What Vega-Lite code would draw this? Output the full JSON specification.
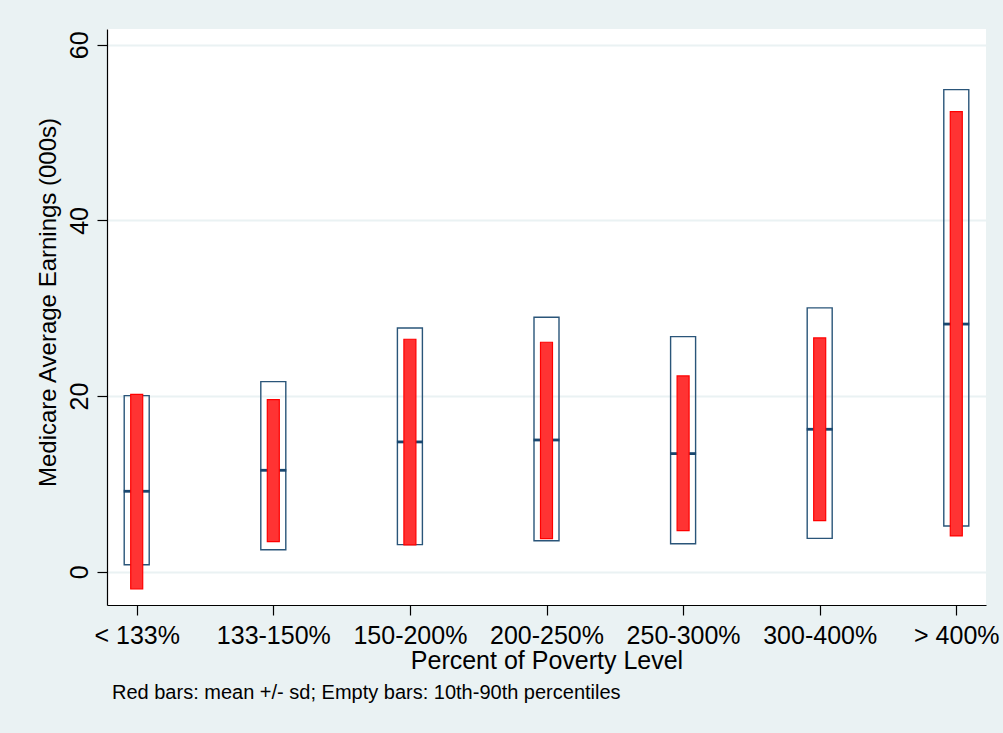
{
  "$schema": "https://vega.github.io/schema/vega-lite/v6.json",
  "width": 879,
  "height": 576,
  "autosize": {"type": "none"},
  "padding": {"left": 107, "top": 29, "right": 17, "bottom": 128},
  "background": "#EAF2F3",
  "config": {
    "view": {"fill": "white", "stroke": null},
    "font": "Liberation Sans"
  },
  "title": {
    "text": "Red bars: mean +/- sd; Empty bars: 10th-90th percentiles",
    "orient": "bottom",
    "anchor": "start",
    "frame": "group",
    "dx": 5,
    "offset": 26,
    "baseline": "alphabetic",
    "fontSize": 20,
    "fontWeight": "normal",
    "font": "Liberation Sans",
    "color": "black"
  },
  "data": {
    "values": [
      {"group": "< 133%", "p10": 0.8, "p90": 20.05, "median": 9.16, "lo": -1.97, "hi": 20.2},
      {"group": "133-150%", "p10": 2.5, "p90": 21.65, "median": 11.55, "lo": 3.42, "hi": 19.6},
      {"group": "150-200%", "p10": 3.08, "p90": 27.76, "median": 14.78, "lo": 3.05, "hi": 26.47},
      {"group": "200-250%", "p10": 3.53, "p90": 28.98, "median": 15.0, "lo": 3.76, "hi": 26.13},
      {"group": "250-300%", "p10": 3.19, "p90": 26.77, "median": 13.45, "lo": 4.67, "hi": 22.3},
      {"group": "300-400%", "p10": 3.8, "p90": 30.04, "median": 16.22, "lo": 5.81, "hi": 26.62},
      {"group": "> 400%", "p10": 5.2, "p90": 54.9, "median": 28.2, "lo": 4.07, "hi": 52.4}
    ]
  },
  "encoding": {
    "x": {
      "field": "group",
      "type": "nominal",
      "sort": null,
      "scale": {"type": "point", "padding": 0.2175, "domain": ["< 133%", "133-150%", "150-200%", "200-250%", "250-300%", "300-400%", "> 400%"]},
      "axis": {
        "title": "Percent of Poverty Level",
        "labelAngle": 0,
        "labelFontSize": 25,
        "labelColor": "black",
        "labelBaseline": "alphabetic",
        "labelPadding": 28,
        "tickSize": 10,
        "tickColor": "black",
        "tickWidth": 1.2,
        "domainColor": "black",
        "domainWidth": 1.2,
        "grid": false,
        "titleFontSize": 25,
        "titleFontWeight": "normal",
        "titleColor": "black",
        "titleBaseline": "alphabetic",
        "titleY": 63,
        "titleX": 439.5,
        "titleAnchor": "middle"
      }
    }
  },
  "layer": [
    {
      "mark": {"type": "bar", "width": 25, "fill": null, "fillOpacity": 0, "stroke": "#2A5579", "strokeWidth": 1.4},
      "encoding": {
        "y": {
          "field": "p10",
          "type": "quantitative",
          "scale": {"domain": [-3.79, 61.8], "nice": false, "zero": false},
          "axis": {
            "title": "Medicare Average Earnings (000s)",
            "values": [0, 20, 40, 60],
            "labelAngle": -90,
            "labelAlign": "center",
            "labelBaseline": "alphabetic",
            "labelPadding": 10,
            "labelFontSize": 25,
            "labelColor": "black",
            "tickSize": 10,
            "tickColor": "black",
            "tickWidth": 1.2,
            "domainColor": "black",
            "domainWidth": 1.2,
            "grid": true,
            "gridColor": "#EAF2F3",
            "gridWidth": 2,
            "titleFontSize": 24,
            "titleFontWeight": "normal",
            "titleColor": "black",
            "titleAngle": -90,
            "titleAlign": "center",
            "titleBaseline": "alphabetic",
            "titleX": -52,
            "titleY": 273
          }
        },
        "y2": {"field": "p90"}
      }
    },
    {
      "mark": {"type": "tick", "size": 26, "thickness": 2.8, "color": "#1A476F", "opacity": 1},
      "encoding": {
        "y": {"field": "median", "type": "quantitative"}
      }
    },
    {
      "mark": {"type": "bar", "width": 12, "fill": "#FF3333", "stroke": "#FF0000", "strokeWidth": 1.2, "opacity": 1},
      "encoding": {
        "y": {"field": "lo", "type": "quantitative"},
        "y2": {"field": "hi"}
      }
    }
  ]
}
